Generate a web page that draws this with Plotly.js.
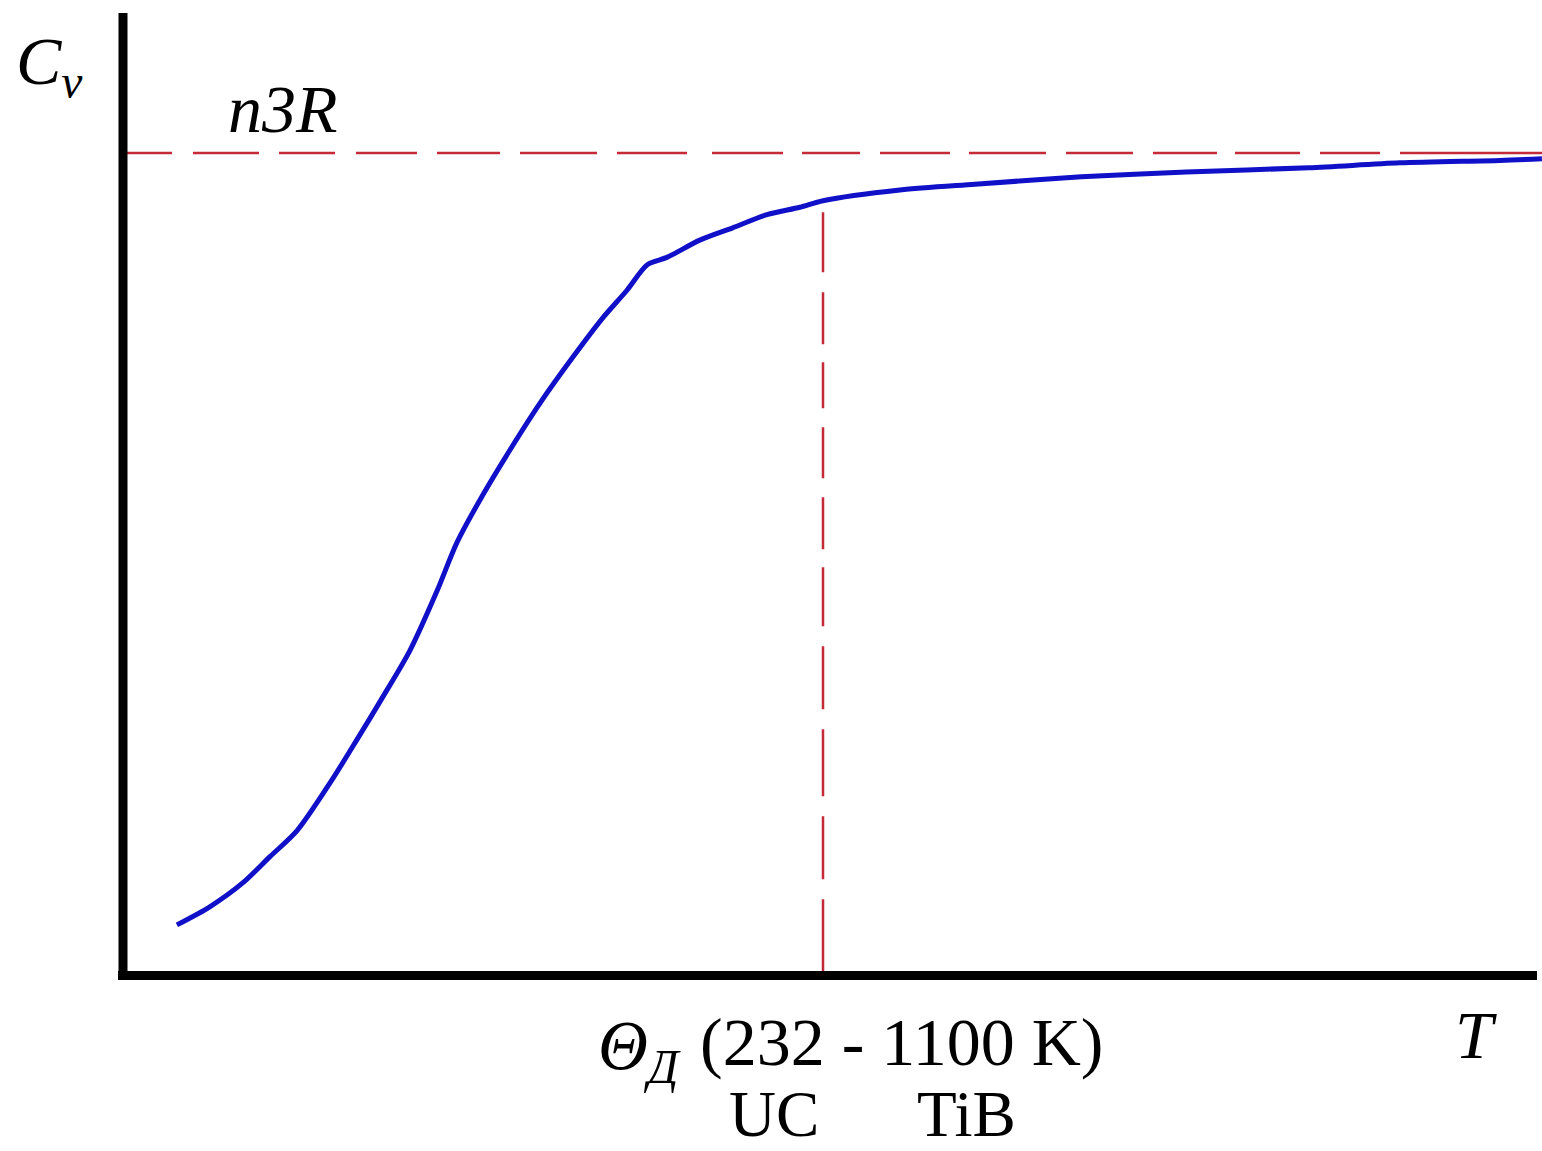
<!DOCTYPE html>
<html>
<head>
<meta charset="utf-8">
<script src="https://cdn.plot.ly/plotly-3.0.1.min.js"></script>
<style>html,body{margin:0;padding:0;background:#fff;}#chart{width:1542px;height:1151px;}</style>
</head>
<body>
<div id="chart"></div>
<script>
// Data: T / Theta_D (x) and Cv / n3R (y)
var tRatio = [0.077,0.124,0.171,0.210,0.249,0.296,0.334,0.371,0.410,0.449,0.477,0.514,0.553,0.596,0.643,0.686,0.720,0.749,0.777,0.824,0.871,0.920,0.967,1.000,1.110,1.217,1.369,1.519,1.694,1.824,1.967,2.027];
var cvRatio = [0.061,0.083,0.112,0.144,0.176,0.234,0.286,0.338,0.395,0.468,0.526,0.584,0.639,0.696,0.752,0.800,0.833,0.864,0.873,0.894,0.909,0.925,0.934,0.942,0.955,0.962,0.971,0.977,0.982,0.988,0.991,0.993];
var n3RLevel = 1.0;      // Dulong-Petit limit
var thetaD = 1.0;        // Debye temperature position
var thetaLineTop = 0.928;

var labelCv = "<i>C</i><sub><i>v</i></sub>";
var labelN3R = "<i>n3R</i>";
var labelT = "<i>T</i>";
var labelThetaSym = "<i>\u0398</i><sub><i>\u0414</i></sub>";
var labelRange = "(232 - 1100 K)";
var labelUC = "UC";
var labelTiB = "TiB";

// layout geometry (pixels)
var W = 1542, H = 1151, ML = 123, MT = 13, MB = 176, MR = 0;
var plotW = W - ML - MR, plotH = H - MT - MB;
function px(xp){ return (xp - ML) / plotW; }
function py(yp){ return (H - MB - yp) / plotH; }

var red = "#c42a38";
var blue = "#1010c8";
var serif = "Liberation Serif, Times New Roman, serif";

var hDash = "49px,21px,66px,20px,56px,21px,61px,20px,63px,20px,77px,20px,70px,25px,71px,19px,58px,20px,70px,19px,77px,20px,67px,20px,64px,18px,65px,20px,60px,20px,300px,10px";
var vDash = "60px,20px,52px,18px,46px,19px,51px,19px,52px,18px,59px,20px,63px,20px,67px,20px,63px,20px,300px,10px";

var trace = {
  x: tRatio, y: cvRatio, type: "scatter", mode: "lines",
  line: {color: blue, width: 5, shape: "spline", smoothing: 0.8},
  hoverinfo: "skip", cliponaxis: false
};

var layout = {
  width: W, height: H,
  margin: {l: ML, r: MR, t: MT, b: MB, pad: 0},
  paper_bgcolor: "#ffffff", plot_bgcolor: "#ffffff",
  showlegend: false,
  xaxis: {range: [0, plotW/700], showgrid: false, zeroline: false, showticklabels: false, showline: false, ticks: "", fixedrange: true},
  yaxis: {range: [0, plotH/822], showgrid: false, zeroline: false, showticklabels: false, showline: false, ticks: "", fixedrange: true},
  shapes: [
    {type: "line", xref: "x", yref: "y", x0: 0, x1: plotW/700, y0: n3RLevel, y1: n3RLevel, line: {color: red, width: 2.5, dash: hDash}},
    {type: "line", xref: "x", yref: "y", x0: thetaD, x1: thetaD, y0: thetaLineTop, y1: 0, line: {color: red, width: 2.5, dash: vDash}},
    {type: "line", xref: "paper", yref: "paper", x0: 0, x1: 0, y0: py(980), y1: 1, line: {color: "#000", width: 9}},
    {type: "line", xref: "paper", yref: "paper", x0: px(118), x1: px(1537), y0: py(975.5), y1: py(975.5), line: {color: "#000", width: 9}}
  ],
  annotations: [
    {text: labelCv, xref: "paper", yref: "paper", x: px(14), y: py(66), xanchor: "left", yanchor: "middle", showarrow: false, font: {family: serif, size: 68, color: "#000"}},
    {text: labelN3R, xref: "paper", yref: "paper", x: px(226), y: py(109), xanchor: "left", yanchor: "middle", showarrow: false, font: {family: serif, size: 68, color: "#000"}},
    {text: labelT, xref: "paper", yref: "paper", x: px(1476), y: py(1035), xanchor: "center", yanchor: "middle", showarrow: false, font: {family: serif, size: 68, color: "#000"}},
    {text: labelThetaSym, xref: "paper", yref: "paper", x: px(596), y: py(1050), xanchor: "left", yanchor: "middle", showarrow: false, font: {family: serif, size: 69, color: "#000"}},
    {text: labelRange, xref: "paper", yref: "paper", x: px(699), y: py(1080.5), xanchor: "left", yanchor: "bottom", borderpad: 0, showarrow: false, font: {family: serif, size: 68, color: "#000"}},
    {text: labelUC, xref: "paper", yref: "paper", x: px(728), y: py(1151), xanchor: "left", yanchor: "bottom", borderpad: 0, showarrow: false, font: {family: serif, size: 65, color: "#000"}},
    {text: labelTiB, xref: "paper", yref: "paper", x: px(916), y: py(1151), xanchor: "left", yanchor: "bottom", borderpad: 0, showarrow: false, font: {family: serif, size: 65, color: "#000"}}
  ]
};

Plotly.newPlot("chart", [trace], layout, {displayModeBar: false, staticPlot: true});
</script>
</body>
</html>
